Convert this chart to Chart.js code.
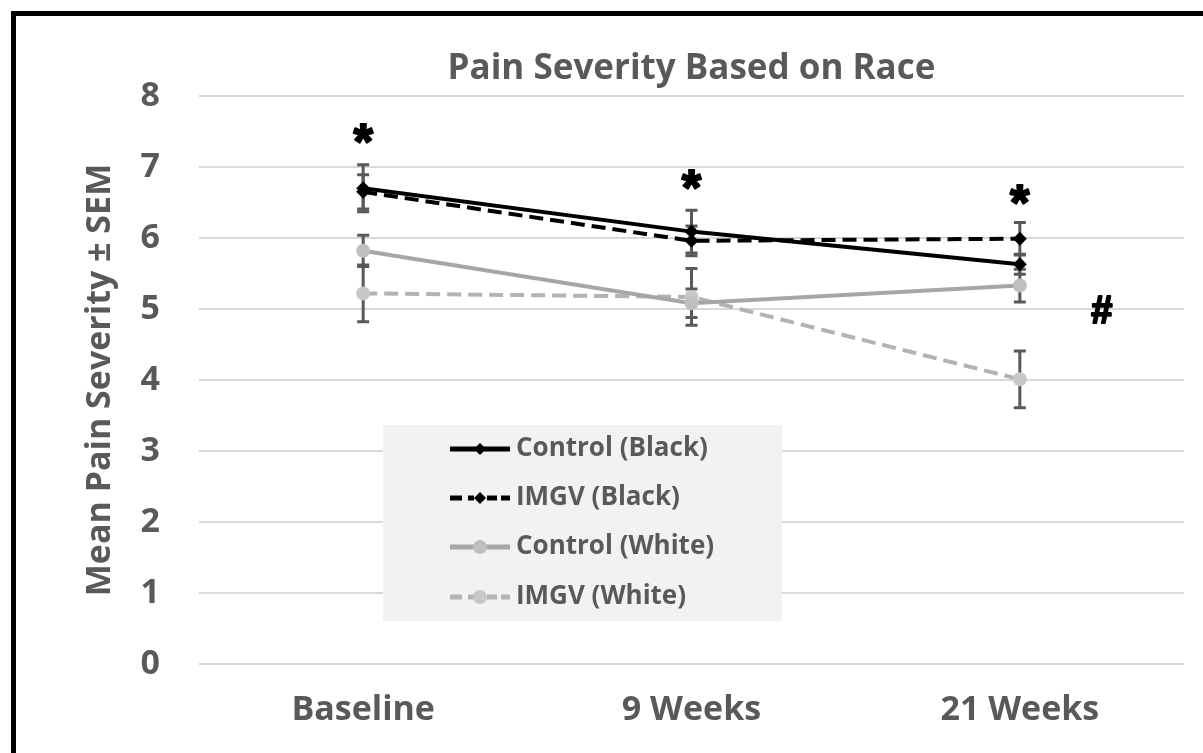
<!DOCTYPE html>
<html>
<head>
<meta charset="utf-8">
<script src="https://cdn.jsdelivr.net/npm/chart.js@4.4.1/dist/chart.umd.min.js"></script>
<style>
  html, body { margin:0; padding:0; width:1203px; height:753px; overflow:hidden; background:#fff; }
  #wrap { position:absolute; left:0; top:0; width:1203px; height:753px; }
  #frame { position:absolute; left:11px; top:11px; width:1400px; height:1000px; border:5px solid #000; pointer-events:none; }
</style>
</head>
<body>
<div id="wrap"><canvas id="c" width="1203" height="753"></canvas></div>
<div id="frame"></div>
<script>
// ---- data ----
const categories = ['Baseline', '9 Weeks', '21 Weeks'];
const seriesNames = ['Control (Black)', 'IMGV (Black)', 'Control (White)', 'IMGV (White)'];
const controlBlack = [6.70, 6.09, 5.63];
const imgvBlack    = [6.65, 5.96, 5.99];
const controlWhite = [5.82, 5.08, 5.33];
const imgvWhite    = [5.22, 5.17, 4.01];
const controlBlackErr = [0.33, 0.30, 0.14];
const imgvBlackErr    = [0.24, 0.21, 0.23];
const controlWhiteErr = [0.22, 0.20, 0.23];
const imgvWhiteErr    = [0.40, 0.40, 0.40];
const yTicks = [0, 1, 2, 3, 4, 5, 6, 7, 8];
// significance markers (category index, value)
const starIdx = [0, 1, 2];
const starVal = [7.45, 6.80, 6.59];
const hashIdx = [2.25];
const hashVal = [4.96];

const TXT = '#595959';
const FONT = "'Open Sans', 'DejaVu Sans', sans-serif";

const errors = [controlBlackErr, imgvBlackErr, controlWhiteErr, imgvWhiteErr];

const errorBars = {
  id: 'errorBars',
  beforeDatasetsDraw(chart) {
    const ctx = chart.ctx, x = chart.scales.x, y = chart.scales.y;
    ctx.save();
    ctx.strokeStyle = '#595959';
    ctx.lineWidth = 3;
    chart.data.datasets.forEach((ds, i) => {
      const err = errors[i];
      ds.data.forEach((v, j) => {
        const px = x.getPixelForValue(j);
        const top = y.getPixelForValue(v + err[j]);
        const bot = y.getPixelForValue(v - err[j]);
        ctx.beginPath();
        ctx.moveTo(px, top); ctx.lineTo(px, bot);
        ctx.moveTo(px - 6, top); ctx.lineTo(px + 6, top);
        ctx.moveTo(px - 6, bot); ctx.lineTo(px + 6, bot);
        ctx.stroke();
      });
    });
    ctx.restore();
  }
};

const extras = {
  id: 'extras',
  afterDraw(chart) {
    const ctx = chart.ctx, x = chart.scales.x, y = chart.scales.y, ca = chart.chartArea;
    ctx.save();
    // title
    ctx.fillStyle = TXT;
    ctx.font = "bold 35px " + FONT;
    ctx.textAlign = 'center';
    ctx.textBaseline = 'middle';
    ctx.fillText('Pain Severity Based on Race', (ca.left + ca.right) / 2, 69);
    // markers
    ctx.fillStyle = '#000';
    ctx.strokeStyle = '#000';
    ctx.lineWidth = 2;
    ctx.lineJoin = 'round';
    ctx.font = "bold 50px 'Liberation Sans', sans-serif";
    starIdx.forEach((idx, k) => {
      const px = x.getPixelForValue(idx), py = y.getPixelForValue(starVal[k]) + 10;
      ctx.fillText('*', px, py);
      ctx.strokeText('*', px, py);
    });
    ctx.font = "bold 38px 'Liberation Sans', sans-serif";
    hashIdx.forEach((idx, k) => {
      const px = x.getPixelForValue(idx), py = y.getPixelForValue(hashVal[k]) + 1;
      ctx.fillText('#', px, py);
      ctx.strokeText('#', px, py);
    });
    // legend
    const bx = 383, by = 425, bw = 399, bh = 196;
    ctx.fillStyle = '#f2f2f2';
    ctx.fillRect(bx, by, bw, bh);
    const rows = [449, 498, 547, 597];
    chart.data.datasets.forEach((ds, i) => {
      const ry = rows[i];
      ctx.save();
      ctx.strokeStyle = ds.borderColor;
      ctx.lineWidth = 5;
      ctx.beginPath();
      if (ds.borderDash) {
        ctx.moveTo(450, ry); ctx.lineTo(462, ry);
        ctx.moveTo(468, ry); ctx.lineTo(474, ry);
        ctx.moveTo(487, ry); ctx.lineTo(497, ry);
        ctx.moveTo(501, ry); ctx.lineTo(510, ry);
      } else {
        ctx.moveTo(450, ry); ctx.lineTo(510, ry);
      }
      ctx.stroke();
      ctx.fillStyle = ds.pointBackgroundColor;
      ctx.beginPath();
      if (ds.pointStyle === 'rectRot') {
        const r = 6;
        ctx.moveTo(480, ry - r); ctx.lineTo(480 + r, ry); ctx.lineTo(480, ry + r); ctx.lineTo(480 - r, ry);
        ctx.closePath();
      } else {
        ctx.arc(480, ry, 7, 0, Math.PI * 2);
      }
      ctx.fill();
      ctx.restore();
      ctx.fillStyle = TXT;
      ctx.font = "bold 26px " + FONT;
      ctx.textAlign = 'left';
      ctx.textBaseline = 'middle';
      ctx.fillText(seriesNames[i], 516, ry);
    });
    ctx.restore();
  }
};

function mk(label, data, color, ptColor, dash, style, radius) {
  return {
    label, data,
    borderColor: color,
    borderWidth: 4,
    borderDash: dash,
    pointStyle: style,
    pointRadius: radius,
    pointHoverRadius: radius,
    pointBackgroundColor: ptColor,
    pointBorderColor: ptColor,
    pointBorderWidth: 0,
    tension: 0,
    fill: false
  };
}

new Chart(document.getElementById('c'), {
  type: 'line',
  data: {
    labels: categories,
    datasets: [
      mk(seriesNames[0], controlBlack, '#000000', '#000000', undefined, 'rectRot', 7),
      mk(seriesNames[1], imgvBlack, '#000000', '#000000', [14, 7], 'rectRot', 7),
      mk(seriesNames[2], controlWhite, '#a6a6a6', '#bfbfbf', undefined, 'circle', 7),
      mk(seriesNames[3], imgvWhite, '#b3b3b3', '#c8c8c8', [14, 7], 'circle', 7)
    ]
  },
  options: {
    responsive: false,
    animation: false,
    layout: { padding: { top: 96, right: 19, left: 0, bottom: 0 } },
    plugins: { legend: { display: false }, title: { display: false }, tooltip: { enabled: false } },
    scales: {
      x: {
        offset: true,
        grid: { display: false, drawTicks: false },
        border: { display: false },
        ticks: { color: TXT, font: { family: FONT, size: 34, weight: 'bold' }, padding: 26, maxRotation: 0 },
        afterFit(s) { s.height = 89; }
      },
      y: {
        min: 0, max: 8,
        afterBuildTicks(s) { s.ticks = yTicks.map(v => ({ value: v })); },
        grid: { color: '#d9d9d9', lineWidth: 2, drawTicks: false },
        border: { display: false },
        ticks: { color: TXT, font: { family: FONT, size: 34, weight: 'bold' }, padding: 39 },
        title: { display: true, text: 'Mean Pain Severity ± SEM', color: TXT,
                 font: { family: FONT, size: 34, weight: 'bold' }, padding: { top: 80, bottom: 0 } },
        afterFit(s) { s.width = 199; }
      }
    }
  },
  plugins: [errorBars, extras]
});
</script>
</body>
</html>
